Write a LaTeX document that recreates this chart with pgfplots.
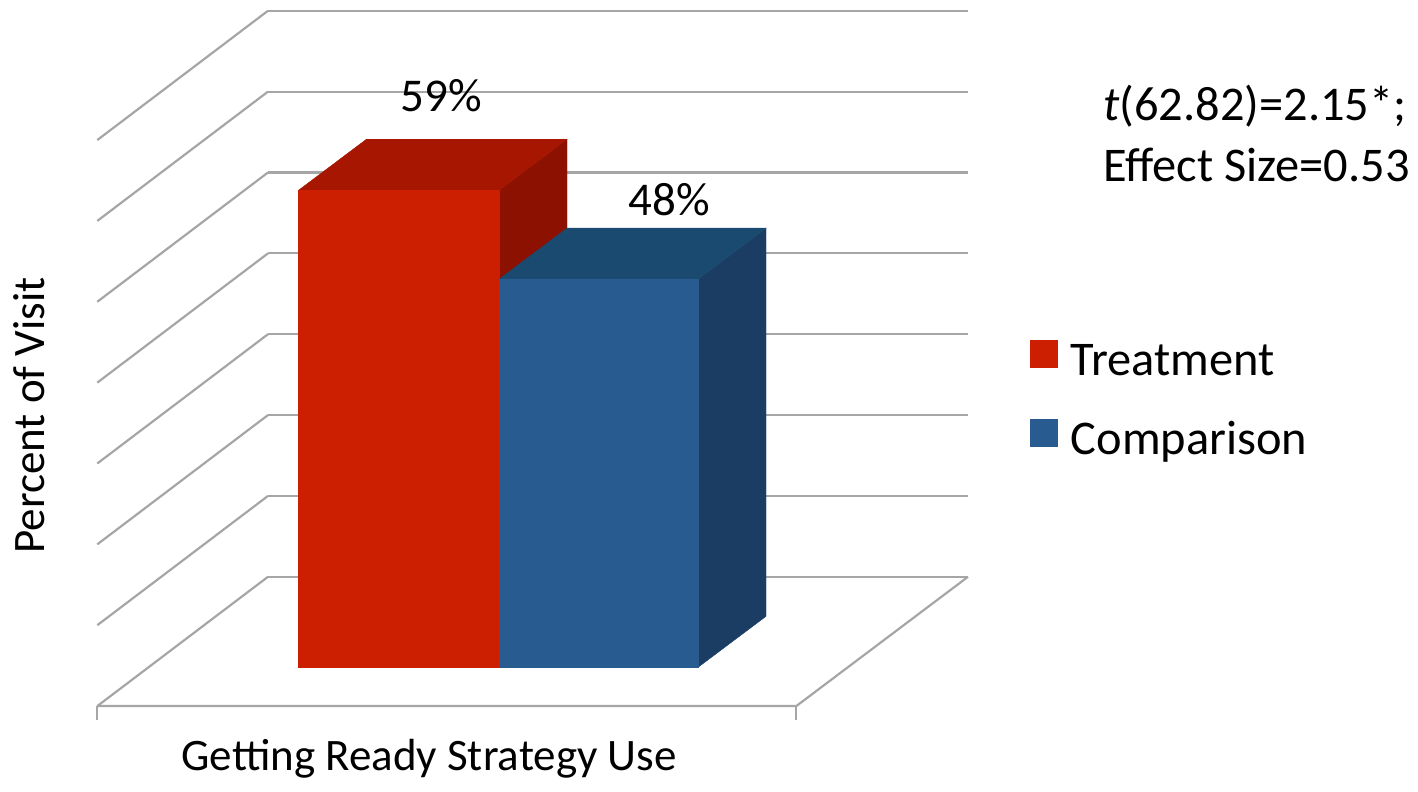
\documentclass[border=0pt]{standalone}
\usepackage{fontspec}
\setmainfont{Carlito}
\usepackage{pgfplots}
\pgfplotsset{compat=1.18}
\definecolor{treatFront}{RGB}{204,30,0}
\definecolor{treatTop}{RGB}{166,22,0}
\definecolor{treatSide}{RGB}{140,17,0}
\definecolor{compFront}{RGB}{40,92,145}
\definecolor{compTop}{RGB}{26,74,112}
\definecolor{compSide}{RGB}{28,61,99}
\definecolor{gridgray}{RGB}{166,166,166}
\newcommand{\chartfont}{\fontsize{23.5bp}{28bp}\selectfont}
\newcommand{\titlefont}{\fontsize{22.5bp}{27bp}\selectfont}
\newcommand{\legfont}{\fontsize{24.2bp}{29bp}\selectfont}
\begin{document}
\begin{tikzpicture}
\begin{axis}[
  x=0.5bp, y=4.043bp,
  xmin=0, xmax=1418, ymin=-15.30, ymax=82.53,
  hide axis, clip=false, scale only axis,
  legend cell align=left,
  legend style={at={(axis cs:1030,40.48)}, anchor=north west, draw=none, fill=none,
    inner sep=0pt, outer sep=0pt, row sep=16bp, column sep=6.5bp,
    font=\legfont, nodes={inner sep=0pt, text height=16bp, text depth=6bp}},
]
\path (axis cs:0,-15.30) rectangle (axis cs:1418,82.53);
% back wall gridlines (0% to 70%)
\pgfplotsinvokeforeach{11.2,21.2,31.2,41.2,51.2,61.2,71.2,81.2}{
  \addplot[gridgray, line width=1.1bp, forget plot] coordinates {(268,#1) (968,#1)};
}
% left wall diagonals
\pgfplotsinvokeforeach{0,10,20,30,40,50,60,70}{
  \addplot[gridgray, line width=1.1bp, forget plot] coordinates {(97.3,-4.79+#1) (268,11.2+#1)};
}
% floor
\addplot[gridgray, line width=1.1bp, forget plot] coordinates {(97.3,-4.79) (796.3,-4.79) (968,11.2)};
\addplot[gridgray, line width=1.1bp, forget plot] coordinates {(97.3,-4.79) (97.3,-6.52)};
\addplot[gridgray, line width=1.1bp, forget plot] coordinates {(796.3,-4.79) (796.3,-6.52)};
% Treatment bar (59)
\addplot[fill=treatSide, draw=treatSide, line width=0.2bp, forget plot] coordinates {(499,0) (567,6.31) (567,65.31) (499,59)} -- cycle;
\addplot[fill=treatTop, draw=treatTop, line width=0.2bp, forget plot] coordinates {(298.5,59) (499,59) (567,65.31) (366.5,65.31)} -- cycle;
\addplot[fill=treatFront, draw=treatFront, line width=0.2bp, forget plot] coordinates {(298.5,0) (499,0) (499,59) (298.5,59)} -- cycle;
% Comparison bar (48)
\addplot[fill=compSide, draw=compSide, line width=0.2bp, forget plot] coordinates {(698,0) (766,6.31) (766,54.31) (698,48)} -- cycle;
\addplot[fill=compTop, draw=compTop, line width=0.2bp, forget plot] coordinates {(499,48) (698,48) (766,54.31) (567,54.31)} -- cycle;
\addplot[fill=compFront, draw=compFront, line width=0.2bp, forget plot] coordinates {(499,0) (698,0) (698,48) (499,48)} -- cycle;
% legend
\addlegendimage{legend image code/.code={\fill[treatFront] (0bp,-1bp) rectangle (13.5bp,12.5bp);}}
\addlegendentry{Treatment}
\addlegendimage{legend image code/.code={\fill[compFront] (0bp,-1bp) rectangle (13.5bp,12.5bp);}}
\addlegendentry{Comparison}
% value labels
\node[anchor=base, font=\chartfont, inner sep=0pt] at (axis cs:441,68.71) {59\%};
\node[anchor=base, font=\chartfont, inner sep=0pt] at (axis cs:669,55.94) {48\%};
% axis titles
\node[anchor=base, rotate=90, font=\titlefont, inner sep=0pt] at (axis cs:45,31.14) {Percent of Visit};
\node[anchor=base, font=\titlefont, inner sep=0pt] at (axis cs:429,-12.70) {Getting Ready Strategy Use};
% annotation
\node[anchor=base west, font=\legfont, inner sep=0pt] at (axis cs:1103,67.68) {\textit{t}(62.82)=2.15*;};
\node[anchor=base west, font=\legfont, inner sep=0pt] at (axis cs:1103,60.14) {Effect Size=0.53};
\end{axis}
\end{tikzpicture}
\end{document}
